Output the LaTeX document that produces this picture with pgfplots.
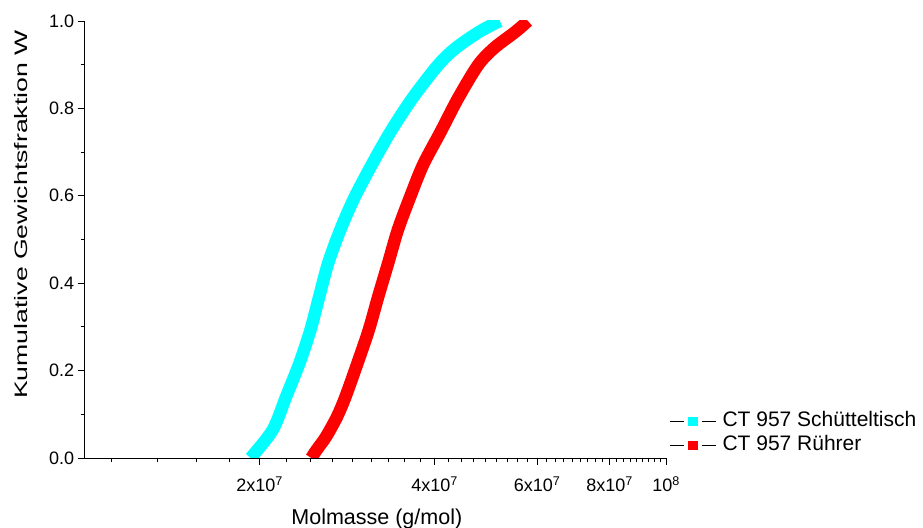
\documentclass[border=0pt]{standalone}
\usepackage{fontspec}
\setmainfont{Liberation Sans}
\usepackage{pgfplots}
\pgfplotsset{compat=1.18}
\begin{document}
\begin{tikzpicture}
\path[use as bounding box] (0,0) rectangle (923bp,528bp);
\begin{axis}[
  at={(84.5bp,70bp)}, anchor=south west,
  scale only axis, width=581.5bp, height=437bp,
  xmode=log, log basis x=10,
  xmin=1e7, xmax=1e8, ymin=0, ymax=1,
  axis x line*=bottom, axis y line*=left,
  axis line style={black, line width=0.8bp},
  tick align=outside,
  major tick length=7bp, minor tick length=4bp,
  every tick/.style={black, line width=0.8bp},
  xtick={2e7,4e7,6e7,8e7,1e8},
  xticklabels={2x10\textsuperscript{7},4x10\textsuperscript{7},6x10\textsuperscript{7},8x10\textsuperscript{7},10\textsuperscript{8}},
  xticklabel style={yshift=-8bp},
  minor xtick={1.1111e7,1.3333e7,1.5556e7,1.7778e7,
    2.2222e7,2.4444e7,2.6667e7,2.8889e7,3.1111e7,3.3333e7,3.5556e7,3.7778e7,
    4.2222e7,4.4444e7,4.6667e7,4.8889e7,5.1111e7,5.3333e7,5.5556e7,5.7778e7,
    6.2222e7,6.4444e7,6.6667e7,6.8889e7,7.1111e7,7.3333e7,7.5556e7,7.7778e7,
    8.2222e7,8.4444e7,8.6667e7,8.8889e7,9.1111e7,9.3333e7,9.5556e7,9.7778e7},
  ytick={0,0.2,0.4,0.6,0.8,1.0},
  minor ytick={0.1,0.3,0.5,0.7,0.9},
  yticklabel style={/pgf/number format/fixed,/pgf/number format/fixed zerofill,/pgf/number format/precision=1,/pgf/number format/assume math mode=true},
  tick label style={font=\fontsize{18bp}{20bp}\selectfont},
  xlabel={Molmasse (g/mol)},
  xlabel style={font=\fontsize{21.5bp}{24bp}\selectfont, at={(axis description cs:0.5026,-0.152)}, anchor=base},
  ylabel={Kumulative Gewichtsfraktion W},
  ylabel style={font=\fontsize{18bp}{20bp}\selectfont, at={(axis description cs:-0.110,0.557)}, anchor=center, xscale=1.48},
  legend style={draw=none, fill=none, inner sep=0pt,
    at={(axis description cs:1,0)}, anchor=south west, xshift=3bp, yshift=3bp,
    font=\fontsize{21bp}{24bp}\selectfont,
    nodes={inner ysep=0pt, inner xsep=6bp, text height=15bp, text depth=4bp},
    row sep=5bp},
  legend cell align=left,
  legend image code/.code={
    \draw[black, line width=0.8bp] (0bp,0bp) -- (14bp,0bp);
    \path[draw=none, fill] (18.5bp,-4.5bp) rectangle (28bp,4.5bp);
    \draw[black, line width=0.8bp] (32.5bp,0bp) -- (46.5bp,0bp);
  },
]
\addplot[color={rgb,255:red,0;green,255;blue,255}, line width=12.5bp, smooth, tension=0.5] coordinates {
(1.93e7,0) (2.106e7,0.064) (2.221e7,0.140) (2.342e7,0.217) (2.446e7,0.293)
(2.532e7,0.369) (2.624e7,0.446) (2.753e7,0.522) (2.907e7,0.594) (3.115e7,0.670)
(3.360e7,0.747) (3.662e7,0.823) (4.054e7,0.899) (4.347e7,0.938) (4.782e7,0.976) (5.177e7,1.0)
};
\addlegendentry{CT 957 Schütteltisch}
\addplot[color={rgb,255:red,255;green,0;blue,0}, line width=12.5bp, smooth, tension=0.5] coordinates {
(2.455e7,0) (2.505e7,0.018) (2.603e7,0.049) (2.719e7,0.095) (2.810e7,0.140)
(2.947e7,0.217) (3.082e7,0.293) (3.199e7,0.369) (3.328e7,0.446) (3.458e7,0.522)
(3.622e7,0.594) (3.819e7,0.670) (4.098e7,0.747) (4.388e7,0.823) (4.750e7,0.899)
(5.061e7,0.938) (5.516e7,0.976) (5.786e7,1.0)
};
\addlegendentry{CT 957 Rührer}
\end{axis}
\end{tikzpicture}
\end{document}
